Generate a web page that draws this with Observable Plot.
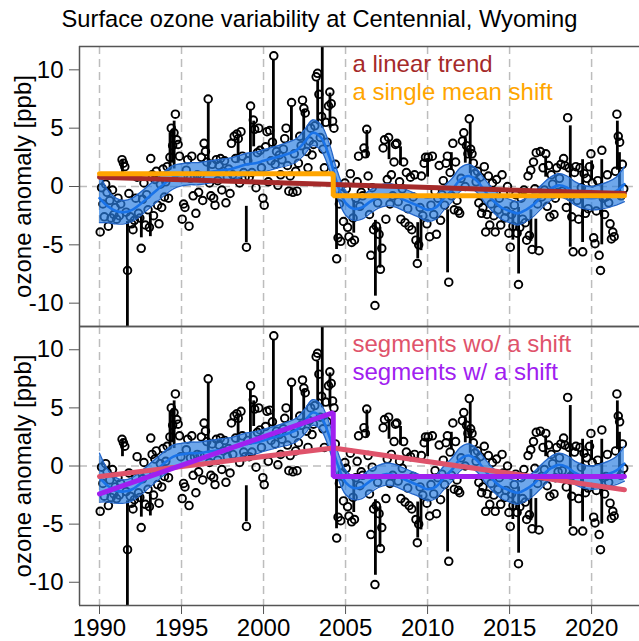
<!DOCTYPE html>
<html><head><meta charset="utf-8">
<script src="https://cdn.jsdelivr.net/npm/d3@7"></script>
<script src="https://cdn.jsdelivr.net/npm/@observablehq/plot@0.6"></script>
<style>
body{margin:0;background:#fff;font-family:"Liberation Sans",Arial,sans-serif;}
#title{height:32px;box-sizing:border-box;padding-top:6px;line-height:26px;font-size:23.7px;text-align:center;width:639px;color:#000;white-space:nowrap;}
svg{display:block}
</style></head><body>
<div id="title">Surface ozone variability at Centennial, Wyoming</div>
<div id="top"></div><div id="bottom"></div>
<script>
// ---- data ----
const startYear = 1990;
const monthlyAnomaly = [
 -3.9,-0.1,-1.5,-2.6,0.2,-0.5,-3.4,-1.2,-2.7,-0.3,-2.4,-1.8,   // 1990
 -2.8,-1.0,-2.5,-1.5,2.3,2.0,1.7,-2.2,-7.2,-0.6,-2.6,-3.2,     // 1991
 -3.7,-2.9,-1.0,0.8,-2.3,-2.7,-5.3,-1.1,0.3,-3.3,-0.7,-2.0,    // 1992
 -3.5,2.4,1.0,-2.5,0.6,1.3,-1.6,-3.2,0.2,-1.8,1.5,-0.9,        // 1993
 0.4,1.7,-1.0,2.5,5.0,3.5,4.6,6.2,4.0,3.6,2.6,0.8,             // 1994
 -2.8,-1.5,-1.8,1.4,2.3,-3.4,0.7,2.6,-0.8,0.8,-2.3,1.0,        // 1995
 -0.5,0.9,2.5,-1.2,3.7,3.0,2.1,7.5,0.3,-0.8,1.9,-1.0,          // 1996
 -1.6,2.3,0.5,1.8,2.4,-0.3,1.3,2.2,-1.4,0.8,1.5,-0.6,          // 1997
 3.7,1.0,4.3,2.4,4.5,4.1,0.3,4.7,2.6,1.2,0.8,-5.2,             // 1998
 2.2,0.8,6.9,1.2,5.7,4.9,-0.1,2.9,5.0,3.1,1.6,-1.0,            // 1999
 -1.6,3.4,4.7,0.4,4.8,2.2,3.8,11.2,1.9,3.0,0.1,2.7,            // 2000
 1.0,2.3,3.2,4.1,5.0,1.8,-0.4,0.9,7.2,-0.5,2.8,1.3,            // 2001
 -0.4,2.0,4.3,3.5,7.4,6.7,6.3,3.0,1.6,3.9,5.0,2.7,             // 2002
 3.6,5.2,9.4,9.7,7.9,4.2,6.0,3.2,1.6,5.5,3.8,6.9,              // 2003
 8.1,7.1,5.6,5.0,1.9,-6.2,-4.4,-1.5,-4.7,-0.6,-3.0,0.3,        // 2004
 -0.2,-3.5,-4.3,1.1,-4.8,-2.7,-4.6,-1.0,0.4,2.6,-1.7,-0.5,     // 2005
 -0.8,3.3,2.8,4.9,0.9,-2.4,-5.9,-0.1,-3.7,-10.2,-3.4,-1.4,     // 2006
 -4.1,-7.1,-5.3,3.3,4.0,-2.8,0.6,4.2,-1.5,1.0,-0.8,2.1,        // 2007
 3.6,3.7,-1.3,0.4,-2.8,-0.2,2.1,-3.1,1.2,-1.9,-3.4,0.8,        // 2008
 -3.7,-0.9,1.0,-4.6,-6.6,-5.0,-1.8,0.9,-2.5,2.0,2.5,-3.2,      // 2009
 2.5,-4.3,-1.6,2.6,-2.4,-0.4,-4.1,-1.0,1.8,-2.9,-0.7,0.5,      // 2010
 -1.6,2.0,2.6,-8.2,1.2,-0.8,3.7,-2.0,2.1,-1.2,-2.1,-2.3,       // 2011
 0.7,3.9,4.6,0.0,3.5,2.8,5.8,3.2,2.8,2.0,1.1,0.4,              // 2012
 1.3,-1.4,0.8,-2.3,-1.8,1.7,-3.9,-2.4,0.9,-3.3,-1.5,0.3,       // 2013
 -2.5,-3.9,0.6,-2.0,-1.0,-3.3,1.0,-0.6,-2.7,-2.1,0.0,-4.0,     // 2014
 -5.2,-2.4,-3.4,-1.6,-0.7,-4.0,-8.4,-3.5,-1.0,-2.8,-0.3,-3.1,  // 2015
 -4.6,0.9,-4.2,1.4,-5.4,2.1,-0.2,2.9,-1.5,-5.5,3.0,-0.9,       // 2016
 1.6,-0.3,2.8,-1.7,1.8,-2.6,1.0,0.2,-2.4,-1.0,1.6,-0.5,        // 2017
 0.7,1.9,-0.4,2.4,1.8,-1.8,5.9,1.6,-0.9,-2.6,-5.6,1.2,         // 2018
 1.7,-1.2,-2.8,1.6,-0.1,-5.6,1.1,-2.3,0.7,-1.9,1.7,2.8,        // 2019
 0.3,-4.4,-4.9,-2.1,0.5,-5.9,-7.2,3.1,-1.0,-2.4,-0.9,1.0,      // 2020
 -1.4,-3.2,-4.5,-3.9,-4.3,1.3,6.2,4.3,3.8,-0.8,1.9,-0.2        // 2021
];

const spikeYear = [1991.7,1992.55,1993.1,1991.4,1994.3,1994.45,1994.55,1996.63,1998.45,1998.95,1999.2,1999.4,2000.6,2001.7,2002.45,2003.3,2003.58,2004.05,2004.45,2005.5,2006.3,2006.82,2007.1,2007.65,2008.35,2009.4,2009.6,2010.0,2011.22,2011.45,2012.3,2012.6,2015.2,2015.55,2016.3,2016.6,2017.2,2018.7,2019.45,2020.0,2020.62,2021.57,2021.7];
const spikeLow  = [-13,-4.4,-4.3,0.8,1.4,2.0,1.5,1.2,2.0,-4.8,1.8,3.4,3.3,3.9,3.8,5.3,5.0,5.0,-5.4,-4.0,2.4,-9.4,-7.0,2.3,1.8,-6.2,-5.5,0.8,-7.4,1.4,2.0,1.1,-4.6,-7.5,-4.7,-5.5,0.8,-5.2,-4.8,0.5,-5.0,1.4,-1.1];
const spikeHigh = [-3.0,-2.6,-2.4,2.3,4.6,4.9,5.6,7.2,4.2,-1.7,6.6,5.6,10.8,6.9,6.6,9.0,13,8.0,-0.9,-1.2,4.8,-2.9,-3.5,4.0,3.4,-3.1,-2.5,2.4,-2.0,2.9,4.2,5.4,-2.3,-1.8,-2.0,-2.8,2.6,5.2,2.3,2.2,2.3,5.6,2.9];

const smoothYear  = [1990,1990.5,1991,1991.5,1992,1992.5,1993,1993.5,1994,1994.5,1995,1995.5,1996,1996.5,1997,1997.5,1998,1998.5,1999,1999.5,2000,2000.5,2001,2001.5,2002,2002.5,2003,2003.5,2004,2004.5,2005,2005.5,2006,2006.5,2007,2007.5,2008,2008.5,2009,2009.5,2010,2010.5,2011,2011.5,2012,2012.5,2013,2013.5,2014,2014.5,2015,2015.5,2016,2016.5,2017,2017.5,2018,2018.5,2019,2019.5,2020,2020.5,2021,2021.5,2022];
const smoothValue = [-1.0,-1.7,-2.1,-2.2,-2.0,-1.5,-0.9,-0.3,0.3,0.8,1.0,1.1,1.1,1.2,1.3,1.4,1.5,1.7,1.9,2.0,2.2,2.4,2.6,2.8,3.1,3.8,4.6,4.2,2.6,0.2,-1.4,-1.9,-1.8,-1.3,-0.9,-0.7,-0.8,-1.1,-1.4,-1.7,-2.0,-1.8,-1.0,-0.3,0.6,0.9,0.5,-0.4,-1.2,-1.8,-2.1,-2.3,-2.0,-1.5,-0.8,-0.2,0.1,-0.1,-0.6,-0.9,-1.0,-0.9,-0.7,-0.4,0.2];
const smoothHalf  = [2.1,1.4,1.1,1.0,1.0,1.0,1.0,1.0,1.0,1.0,0.95,0.95,0.95,0.95,0.95,0.95,0.95,0.95,0.95,0.95,0.95,0.95,0.95,1.0,1.0,1.05,1.1,1.1,1.1,1.1,1.05,1.0,1.0,1.0,0.95,0.95,0.95,0.95,0.95,0.95,1.0,1.0,1.0,1.0,1.0,1.0,1.0,1.0,1.0,1.0,1.0,1.0,1.0,1.0,1.0,1.0,1.0,1.0,1.0,1.0,1.0,1.05,1.1,1.2,1.5];

const linearYear = [1990, 2022];
const linearValue = [0.8, -0.6];
const shiftYear = [1990, 2004.25, 2004.25, 2022];
const shiftValue = [1.1, 1.1, -0.8, -0.8];
const segYear = [1990, 2004.25, 2022];
const segValue = [-0.9, 1.55, -2.05];
const segShiftYear = [1990, 2004.25, 2004.25, 2022];
const segShiftValue = [-2.4, 4.6, -0.9, -0.9];

const xTicks = [1990, 1995, 2000, 2005, 2010, 2015, 2020];
const yTicks = [-10, -5, 0, 5, 10];
const topLegend = ["a linear trend", "a single mean shift"];
const bottomLegend = ["segments wo/ a shift", "segments w/ a shift"];
const yLabel = "ozone anomaly [ppb]";

// ---- tables ----
const points = monthlyAnomaly.map((v, i) => ({year: startYear + (i + 0.5) / 12, v}));
const spikes = spikeYear.map((y, i) => ({year: y, lo: spikeLow[i], hi: spikeHigh[i]}));
const smooth = smoothYear.map((y, i) => ({year: y, mid: smoothValue[i], lo: smoothValue[i] - smoothHalf[i], hi: smoothValue[i] + smoothHalf[i]}));
const toRows = (xs, ys) => xs.map((x, i) => ({year: x, v: ys[i]}));

const X0 = 1988.78, X1 = 2022.92;
const FONT = "Liberation Sans, Arial, sans-serif";

function panel({height, marginTop, marginBottom, showX, lines, legend, colors}) {
  const marks = [
    Plot.ruleX(xTicks, {stroke: "#bdbdbd", strokeWidth: 1.5, strokeDasharray: "8,5"}),
    Plot.ruleY([0], {x1: X0, x2: 2022.55, stroke: "#bdbdbd", strokeWidth: 1.5, strokeDasharray: "8,5"}),
    Plot.ruleX(spikes, {x: "year", y1: "lo", y2: "hi", stroke: "black", strokeWidth: 2.8, clip: true}),
    Plot.dot(points, {x: "year", y: "v", r: 3.8, stroke: "black", strokeWidth: 1.9, fill: "none", clip: true}),
    Plot.areaY(smooth, {x: "year", y1: "lo", y2: "hi", fill: "#2a7de1", fillOpacity: 0.68, curve: "catmull-rom"}),
    Plot.line(smooth, {x: "year", y: "lo", stroke: "#2466c8", strokeWidth: 1.3, curve: "catmull-rom"}),
    Plot.line(smooth, {x: "year", y: "hi", stroke: "#2466c8", strokeWidth: 1.3, curve: "catmull-rom"}),
    Plot.line(smooth, {x: "year", y: "mid", stroke: "#1a73e8", strokeWidth: 2.6, curve: "catmull-rom"}),
    ...lines.map(([rows, color]) => Plot.line(rows, {x: "year", y: "v", stroke: color, strokeWidth: 5, strokeLinejoin: "miter"})),
    ...legend.map((t, i) => Plot.text([t], {text: d => d, frameAnchor: "top-left", dx: 273, dy: 18 + 28 * i, textAnchor: "start", lineAnchor: "middle", fill: colors[i], fontSize: 24})),
    Plot.ruleX([X0], {stroke: "#555", strokeWidth: 1.5}),
    Plot.ruleY([12, -12], {stroke: "#555", strokeWidth: 1.5}),
    Plot.axisY(yTicks, {tickSize: 10, tickPadding: 6, stroke: "#555", fill: "black", label: null, tickFormat: d => String(d), fontSize: 24}),
    Plot.text([yLabel], {text: d => d, frameAnchor: "left", dx: -56, rotate: -90, textAnchor: "middle", lineAnchor: "middle", fontSize: 24, fill: "black"})
  ];
  if (showX) marks.push(Plot.axisX(xTicks, {tickSize: 9, tickPadding: 4, stroke: "#555", fill: "black", label: null, tickFormat: d => String(d), fontSize: 24}));
  return Plot.plot({
    width: 639, height, marginLeft: 79, marginRight: 0, marginTop, marginBottom,
    style: {fontFamily: FONT, fontSize: "24px", color: "black", background: "white", overflow: "visible"},
    x: {domain: [X0, X1], axis: showX ? undefined : null},
    y: {domain: [-12, 12]},
    marks
  });
}

document.getElementById("top").append(panel({
  height: 294, marginTop: 14, marginBottom: 0, showX: false,
  lines: [[toRows(linearYear, linearValue), "#A52A2A"], [toRows(shiftYear, shiftValue), "#FFA500"]],
  legend: topLegend, colors: ["#A52A2A", "#FFA500"]
}));
document.getElementById("bottom").append(panel({
  height: 315, marginTop: 0, marginBottom: 36, showX: true,
  lines: [[toRows(segYear, segValue), "#DF536B"], [toRows(segShiftYear, segShiftValue), "#A020F0"]],
  legend: bottomLegend, colors: ["#DF536B", "#A020F0"]
}));
</script>
</body></html>
